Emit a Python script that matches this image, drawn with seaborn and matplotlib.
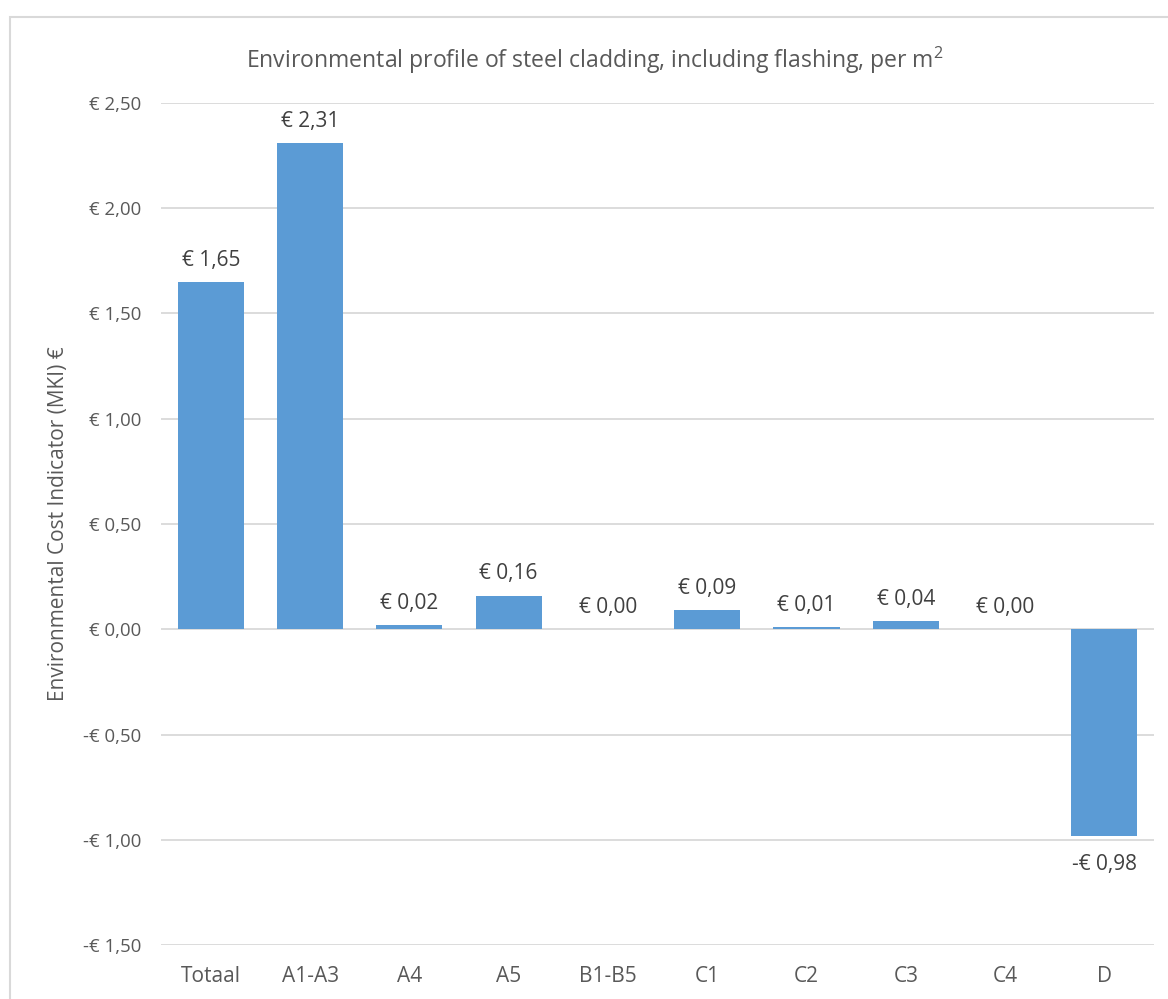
#!/usr/bin/env python3

import matplotlib
matplotlib.use('Agg')
import matplotlib.pyplot as plt  # plotting
import matplotlib.patches as patches
import seaborn as sns            # bar chart
import pandas as pd              # data handling

# data
stages = ['Totaal', 'A1-A3', 'A4', 'A5', 'B1-B5', 'C1', 'C2', 'C3', 'C4', 'D']
mki_values = [1.65, 2.31, 0.02, 0.16, 0.00, 0.09, 0.01, 0.04, 0.00, -0.98]
y_ticks = [-1.5, -1.0, -0.5, 0.0, 0.5, 1.0, 1.5, 2.0, 2.5]

TITLE = 'Environmental profile of steel cladding, including flashing, per m$^2$'
Y_LABEL = 'Environmental Cost Indicator (MKI) €'
BAR_COLOR = '#5B9BD5'
TEXT_COLOR = '#595959'
GRID_COLOR = '#D9D9D9'


def euro(v: float) -> str:
    """Format a value the Dutch Excel way: € 1,65 / -€ 0,98"""
    s = f'{abs(v):.2f}'.replace('.', ',')
    return ('-€ ' if v < 0 else '€ ') + s


sns.set_style('white')
plt.rcParams['font.family'] = ['Open Sans', 'DejaVu Sans']
plt.rcParams['mathtext.fontset'] = 'custom'
plt.rcParams['mathtext.rm'] = 'Open Sans'
plt.rcParams['mathtext.default'] = 'regular'

df = pd.DataFrame({'stage': stages, 'mki': mki_values})

fig = plt.figure(figsize=(11.68, 9.99), dpi=100)
ax = fig.add_axes([0.138, 0.054, 0.850, 0.843])

sns.barplot(data=df, x='stage', y='mki', color=BAR_COLOR, saturation=1,
            width=0.665, linewidth=0, ax=ax)

ax.set_ylim(-1.5, 2.5)
ax.set_yticks(y_ticks)
ax.set_yticklabels([euro(t) for t in y_ticks])
ax.grid(axis='y', color=GRID_COLOR, linewidth=1.3)
ax.set_axisbelow(True)
for sp in ax.spines.values():
    sp.set_visible(False)
ax.tick_params(axis='y', length=0, labelsize=13.4, colors=TEXT_COLOR, pad=14)
ax.tick_params(axis='x', length=0, labelsize=15, colors=TEXT_COLOR, pad=15)
ax.set_xlabel('')
ax.set_ylabel(Y_LABEL, fontsize=15, color=TEXT_COLOR)
ax.yaxis.set_label_coords(-0.093, 0.5)

# data labels: positives above the bar, negatives below with a bit more room
bars = ax.containers[0]
ax.bar_label(bars, labels=[euro(v) if v >= 0 else '' for v in mki_values],
             padding=8, fontsize=15, color='#404040')
ax.bar_label(bars, labels=[euro(v) if v < 0 else '' for v in mki_values],
             padding=13, fontsize=15, color='#404040')

fig.text(0.509, 0.94, TITLE, ha='center', va='center', fontsize=16.6, color=TEXT_COLOR)

# chart area border (cut off on the right and bottom as in the reference)
fig.patches.append(patches.Rectangle((10 / 1168, -0.1), 1.2, 1 - 17 / 999 + 0.1,
                                     transform=fig.transFigure, fill=False,
                                     edgecolor=GRID_COLOR, linewidth=1.5))

plt.savefig('out.png', dpi=100)
